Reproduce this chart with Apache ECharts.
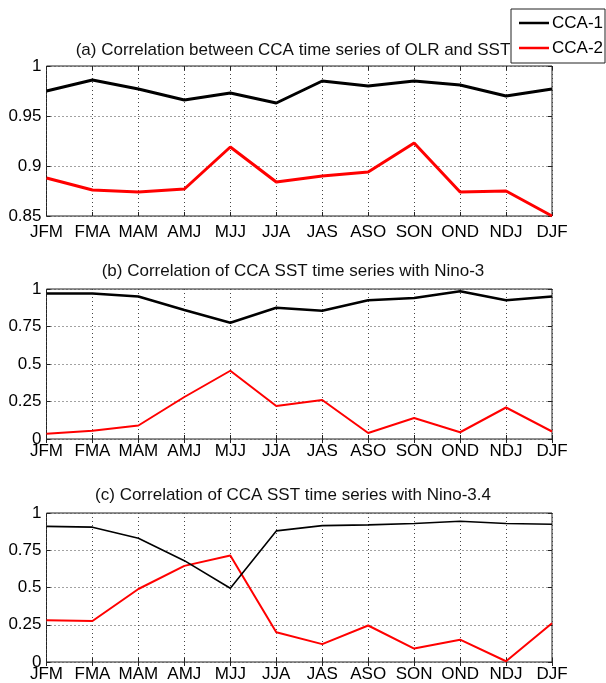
<!DOCTYPE html>
<html>
<head>
<meta charset="utf-8">
<script src="https://cdn.jsdelivr.net/npm/echarts@6/dist/echarts.min.js"></script>
<style>
html,body{margin:0;padding:0;background:#fff;}
#chart{width:606px;height:683px;}
</style>
</head>
<body>
<div id="chart"></div>
<script>
const categories = ['JFM','FMA','MAM','AMJ','MJJ','JJA','JAS','ASO','SON','OND','NDJ','DJF'];
const seriesNames = ['CCA-1','CCA-2'];
const panelTitles = [
  '(a) Correlation between CCA time series of OLR and SST',
  '(b) Correlation of CCA SST time series with Nino-3',
  '(c) Correlation of CCA SST time series with Nino-3.4'
];
// panel (a)
const a_cca1 = [0.975,0.986,0.977,0.966,0.973,0.963,0.985,0.980,0.985,0.981,0.970,0.977];
const a_cca2 = [0.888,0.876,0.874,0.877,0.919,0.884,0.890,0.894,0.923,0.874,0.875,0.850];
// panel (b)
const b_cca1 = [0.970,0.970,0.950,0.860,0.775,0.875,0.855,0.925,0.940,0.985,0.925,0.950];
const b_cca2 = [0.035,0.055,0.090,0.280,0.455,0.220,0.260,0.040,0.140,0.045,0.210,0.050];
// panel (c)
const c_cca1 = [0.910,0.905,0.830,0.680,0.495,0.880,0.915,0.920,0.930,0.945,0.930,0.925];
const c_cca2 = [0.280,0.275,0.490,0.645,0.715,0.200,0.120,0.245,0.090,0.150,0.005,0.260];
// axis ranges
const yMins = [0.85, 0, 0];
const yMaxs = [1, 1, 1];
const yIntervals = [0.05, 0.25, 0.25];

const panelData = [[a_cca1,a_cca2],[b_cca1,b_cca2],[c_cca1,c_cca2]];

const FONT = 'Liberation Sans, Arial, Helvetica, sans-serif';
const grids = [
  {left:46.5, right:54, top:66, height:150},
  {left:46.5, right:54, top:289, height:150},
  {left:46.5, right:54, top:513, height:152}
];
const titleTops = [37, 258, 482];
const xLabelMargins = [8, 4, 4];
const lineWidths = [[3,3],[2.5,2],[1.6,2]];
const colors = ['#000000','#ff0000'];

const xAxes = [], yAxes = [], series = [], titles = [];
grids.forEach((g, i) => {
  g.show = true; g.borderColor = '#222'; g.borderWidth = 1; g.containLabel = false;
  titles.push({text: panelTitles[i], left: 288, top: titleTops[i], textAlign: 'center',
    textStyle:{fontFamily:FONT, fontSize:17, fontWeight:'normal', color:'#111'}});
  xAxes.push({type:'category', data:categories, gridIndex:i, boundaryGap:false, position:'bottom',
    axisLine:{show:false}, axisTick:{show:true, inside:true, length:4, lineStyle:{color:'#222'}},
    axisLabel:{fontFamily:FONT, fontSize:17, color:'#000', margin:xLabelMargins[i], interval:0},
    splitLine:{show:true, lineStyle:{type:[1,3], color:'#444', width:1}}});
  xAxes.push({type:'category', data:categories, gridIndex:i, boundaryGap:false, position:'top',
    axisLine:{show:false}, axisTick:{show:true, inside:true, length:4, lineStyle:{color:'#222'}},
    axisLabel:{show:false}, splitLine:{show:false}});
  yAxes.push({type:'value', gridIndex:i, min:yMins[i], max:yMaxs[i], interval:yIntervals[i], position:'left',
    axisLine:{show:false}, axisTick:{show:true, inside:true, length:4, lineStyle:{color:'#222'}},
    axisLabel:{fontFamily:FONT, fontSize:17, color:'#000', margin:5,
      formatter: v => String(parseFloat(v.toFixed(4)))},
    splitLine:{show:true, lineStyle:{type:[1,3], color:'#444', width:1}}});
  yAxes.push({type:'value', gridIndex:i, min:yMins[i], max:yMaxs[i], interval:yIntervals[i], position:'right',
    axisLine:{show:false}, axisTick:{show:true, inside:true, length:4, lineStyle:{color:'#222'}},
    axisLabel:{show:false}, splitLine:{show:false}});
  panelData[i].forEach((d, k) => {
    series.push({name:seriesNames[k], type:'line', xAxisIndex:2*i, yAxisIndex:2*i, data:d,
      symbol:'none', showSymbol:false, silent:true, animation:false,
      lineStyle:{color:colors[k], width:lineWidths[i][k]}, itemStyle:{color:colors[k]}, z: 3 - k});
  });
});

const chart = echarts.init(document.getElementById('chart'), null, {renderer:'canvas'});
chart.setOption({
  animation:false,
  backgroundColor:'#ffffff',
  title: titles,
  legend:{data:seriesNames, orient:'vertical', left:511, top:9, backgroundColor:'#fff',
    borderColor:'#222', borderWidth:1, padding:[5,2,6,8], itemGap:7, itemWidth:30, itemHeight:2.5,
    icon:'rect', selectedMode:false,
    textStyle:{fontFamily:FONT, fontSize:17, color:'#000', padding:[0,0,0,-2], lineHeight:18}},
  grid: grids,
  xAxis: xAxes,
  yAxis: yAxes,
  series: series
});
</script>
</body>
</html>
